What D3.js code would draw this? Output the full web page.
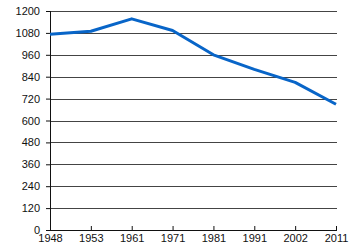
<!DOCTYPE html>
<html lang="en">
<head>
    <meta charset="UTF-8">
    <title>Line chart</title>
    <script src="https://d3js.org/d3.v7.min.js"></script>
    <style>
        body {
            margin: 0;
            padding: 0;
            background-color: #fff;
            font-family: "Liberation Sans", Arial, sans-serif;
        }
        .axis text {
            font-size: 11px;
            fill: #111;
        }
        .axis path { display: none; }
        .grid line { stroke: #444; stroke-width: 1; }
        .line {
            fill: none;
            stroke: #0865c8;
            stroke-width: 3;
            stroke-linejoin: round;
        }
    </style>
</head>
<body>
    <div id="chart"></div>
    <script>
        const years = ["1948", "1953", "1961", "1971", "1981", "1991", "2002", "2011"];
        const values = [1073, 1089, 1157, 1093, 960, 880, 809, 689];
        const yTicks = [0, 120, 240, 360, 480, 600, 720, 840, 960, 1080, 1200];

        const margin = {top: 11, right: 14, bottom: 20, left: 50};
        const width = 350 - margin.left - margin.right;
        const height = 250 - margin.top - margin.bottom;

        const svg = d3.select("#chart").append("svg")
            .attr("width", 350)
            .attr("height", 250)
            .append("g")
            .attr("transform", `translate(${margin.left}, ${margin.top})`);

        const x = d3.scalePoint().domain(years).range([0, width]);
        const y = d3.scaleLinear().domain([0, 1200]).range([height, 0]);

        // horizontal grid lines
        svg.append("g")
            .attr("class", "grid")
            .selectAll("line")
            .data(yTicks.slice(1))
            .join("line")
            .attr("x1", 0)
            .attr("x2", width + 1)
            .attr("y1", d => Math.round(y(d)) + 0.5)
            .attr("y2", d => Math.round(y(d)) + 0.5);

        const gY = svg.append("g")
            .attr("class", "axis")
            .call(d3.axisLeft(y).tickValues(yTicks).tickFormat(d3.format("d")).tickSize(4).tickPadding(6));
        gY.selectAll("line").attr("stroke", "#111");

        const gX = svg.append("g")
            .attr("class", "axis")
            .attr("transform", `translate(0, ${height})`)
            .call(d3.axisBottom(x).tickSize(-4).tickPadding(3));
        gX.selectAll("line").attr("stroke", "#111");
        gX.selectAll("text").attr("dy", "0.85em");

        // axis lines
        svg.append("line")
            .attr("x1", 0.5).attr("x2", 0.5)
            .attr("y1", 0).attr("y2", height)
            .attr("stroke", "#111");
        svg.append("line")
            .attr("x1", 0).attr("x2", width + 1)
            .attr("y1", height + 0.5).attr("y2", height + 0.5)
            .attr("stroke", "#111");

        const line = d3.line()
            .x((d, i) => x(years[i]))
            .y(d => y(d));

        svg.append("path")
            .datum(values)
            .attr("class", "line")
            .attr("d", line);
    </script>
</body>
</html>
